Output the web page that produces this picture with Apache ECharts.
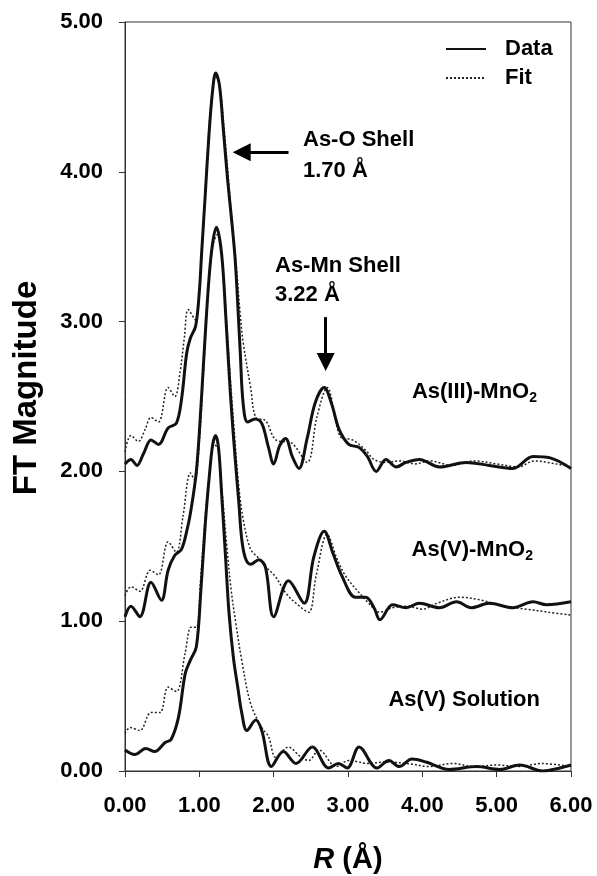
<!DOCTYPE html>
<html>
<head>
<meta charset="utf-8">
<script src="https://cdn.jsdelivr.net/npm/echarts@6/dist/echarts.min.js"></script>
<style>
  html, body { margin: 0; padding: 0; background: #fff; }
  #chart { width: 597px; height: 876px; }
</style>
</head>
<body>
<div id="chart"></div>
<script>
// R (Å), FT magnitude pairs
var asIIIData = [[0,2.05],[0.08,2.08],[0.16,2.04],[0.25,2.12],[0.35,2.21],[0.45,2.18],[0.58,2.29],[0.69,2.32],[0.76,2.48],[0.83,2.79],[0.88,2.89],[0.95,2.97],[1.0,3.2],[1.03,3.45],[1.08,3.85],[1.13,4.25],[1.18,4.55],[1.22,4.66],[1.27,4.58],[1.32,4.3],[1.38,3.95],[1.44,3.65],[1.48,3.43],[1.51,3.18],[1.55,2.8],[1.59,2.45],[1.65,2.33],[1.75,2.35],[1.84,2.32],[1.93,2.16],[2.0,2.05],[2.08,2.17],[2.16,2.22],[2.25,2.1],[2.34,2.02],[2.45,2.22],[2.56,2.46],[2.68,2.56],[2.78,2.45],[2.88,2.28],[3.01,2.18],[3.15,2.16],[3.26,2.1],[3.38,2.0],[3.51,2.08],[3.65,2.03],[3.78,2.06],[3.96,2.08],[4.23,2.03],[4.59,2.06],[4.9,2.04],[5.22,2.02],[5.49,2.1],[5.72,2.09],[6.0,2.02]];
var asIIIFit = [[0,2.13],[0.08,2.24],[0.18,2.2],[0.27,2.28],[0.35,2.36],[0.45,2.33],[0.58,2.56],[0.67,2.5],[0.74,2.66],[0.8,2.9],[0.85,3.08],[0.95,3.01],[1.0,3.2],[1.05,3.6],[1.1,4.05],[1.16,4.48],[1.22,4.64],[1.28,4.55],[1.34,4.25],[1.4,3.9],[1.46,3.55],[1.5,3.35],[1.55,3.05],[1.59,2.86],[1.69,2.56],[1.76,2.36],[1.89,2.34],[2.03,2.21],[2.24,2.19],[2.45,2.06],[2.58,2.36],[2.72,2.56],[2.9,2.23],[3.06,2.21],[3.24,2.14],[3.35,2.08],[3.51,2.06],[3.7,2.07],[3.9,2.05],[4.1,2.07],[4.4,2.04],[4.7,2.07],[5.0,2.05],[5.3,2.03],[5.5,2.07],[5.8,2.05],[6.0,2.03]];

var asVMnData = [[0,1.03],[0.08,1.1],[0.2,1.03],[0.35,1.26],[0.49,1.14],[0.58,1.34],[0.67,1.44],[0.76,1.48],[0.83,1.6],[0.88,1.72],[0.96,2.0],[1.03,2.5],[1.09,3.0],[1.16,3.45],[1.23,3.63],[1.3,3.45],[1.36,3.0],[1.42,2.5],[1.48,2.1],[1.53,1.8],[1.57,1.55],[1.62,1.42],[1.69,1.38],[1.8,1.41],[1.89,1.36],[2.0,1.03],[2.2,1.27],[2.41,1.12],[2.54,1.43],[2.68,1.6],[2.8,1.45],[2.92,1.3],[3.1,1.16],[3.24,1.16],[3.35,1.09],[3.43,1.01],[3.6,1.11],[3.78,1.09],[3.96,1.12],[4.23,1.09],[4.46,1.13],[4.66,1.09],[4.9,1.12],[5.22,1.09],[5.49,1.13],[5.67,1.11],[6.0,1.13]];
var asVMnFit = [[0,1.17],[0.08,1.23],[0.2,1.2],[0.34,1.34],[0.45,1.31],[0.58,1.53],[0.69,1.46],[0.78,1.7],[0.88,1.99],[0.94,1.94],[1.0,2.2],[1.06,2.7],[1.12,3.2],[1.18,3.5],[1.24,3.58],[1.3,3.45],[1.36,3.05],[1.42,2.6],[1.48,2.2],[1.53,1.9],[1.59,1.68],[1.69,1.48],[1.8,1.42],[1.9,1.36],[2.02,1.3],[2.16,1.19],[2.3,1.12],[2.47,1.06],[2.57,1.3],[2.72,1.58],[2.85,1.42],[2.97,1.3],[3.15,1.19],[3.28,1.12],[3.42,1.06],[3.6,1.09],[3.8,1.1],[4.0,1.08],[4.2,1.12],[4.5,1.16],[4.8,1.14],[5.1,1.1],[5.4,1.08],[5.7,1.06],[6.0,1.04]];

var solData = [[0,0.14],[0.13,0.11],[0.28,0.15],[0.4,0.13],[0.54,0.19],[0.62,0.21],[0.72,0.36],[0.81,0.65],[0.88,0.74],[0.96,0.83],[1.02,1.2],[1.08,1.65],[1.14,2.0],[1.18,2.18],[1.22,2.24],[1.26,2.15],[1.3,1.85],[1.35,1.45],[1.4,1.05],[1.46,0.75],[1.52,0.55],[1.57,0.39],[1.64,0.27],[1.76,0.34],[1.84,0.27],[1.97,0.03],[2.13,0.13],[2.3,0.05],[2.52,0.16],[2.74,0.02],[2.87,0.05],[2.99,0.02],[3.15,0.16],[3.39,0.02],[3.55,0.07],[3.69,0.03],[3.86,0.08],[4.05,0.06],[4.36,0.01],[4.73,0.03],[5.04,0.01],[5.31,0.04],[5.62,0.0],[5.85,0.02],[6.0,0.04]];
var solFit = [[0,0.25],[0.07,0.29],[0.2,0.27],[0.35,0.39],[0.47,0.39],[0.58,0.56],[0.69,0.53],[0.81,0.79],[0.89,0.96],[0.96,0.96],[1.02,1.3],[1.08,1.7],[1.14,2.0],[1.2,2.18],[1.25,2.15],[1.3,1.9],[1.37,1.5],[1.43,1.2],[1.49,0.99],[1.57,0.74],[1.69,0.45],[1.84,0.29],[1.93,0.23],[2.03,0.09],[2.2,0.16],[2.35,0.1],[2.47,0.07],[2.61,0.14],[2.84,0.03],[3.01,0.07],[3.28,0.05],[3.5,0.06],[3.8,0.05],[4.1,0.03],[4.4,0.05],[4.7,0.03],[5.0,0.04],[5.3,0.03],[5.6,0.05],[6.0,0.03]];

var xTicks = [0, 1, 2, 3, 4, 5, 6];
var yTicks = [0, 1, 2, 3, 4, 5];

var FONT = '"Liberation Sans", Arial, sans-serif';

function dataLine(d) {
    return {
        name: 'Data', type: 'line', data: d, symbol: 'none', smooth: 0.35,
        lineStyle: { color: '#111', width: 3 }, itemStyle: { color: '#111' }, z: 3
    };
}
function fitLine(d) {
    return {
        name: 'Fit', type: 'line', data: d, symbol: 'none', smooth: 0.35,
        lineStyle: { color: '#222', width: 1.5, type: [2, 2] }, itemStyle: { color: '#222' }, z: 2
    };
}
function label(x, y, txt, align) {
    return {
        type: 'text', x: x, y: y, silent: true,
        style: {
            text: txt, fill: '#000', align: align || 'left', verticalAlign: 'middle',
            fontFamily: FONT, fontWeight: 'bold', fontSize: 22,
            rich: { sub: { fontFamily: FONT, fontWeight: 'bold', fontSize: 14, padding: [12, 0, 0, 0] } }
        }
    };
}

var series = [
    dataLine(asIIIData), fitLine(asIIIFit),
    dataLine(asVMnData), fitLine(asVMnFit),
    dataLine(solData), fitLine(solFit)
];
// annotation arrows, in data coordinates
series[0].markLine = {
    silent: true,
    symbol: ['none', 'triangle'],
    symbolSize: [18, 18],
    label: { show: false },
    lineStyle: { color: '#000', width: 3, type: 'solid' },
    data: [
        [{ coord: [2.2, 4.13] }, { coord: [1.57, 4.13] }],
        [{ coord: [2.7, 3.03] }, { coord: [2.7, 2.73] }]
    ]
};

var chart = echarts.init(document.getElementById('chart'));
chart.setOption({
    animation: false,
    backgroundColor: '#fff',
    grid: { left: 125, right: 26, top: 22, bottom: 105, show: true, borderColor: '#333', borderWidth: 1 },
    legend: {
        data: ['Data', 'Fit'],
        orient: 'vertical',
        left: 440, top: 33,
        itemWidth: 40, itemHeight: 20, itemGap: 7,
        itemStyle: { opacity: 0 },
        textStyle: { fontFamily: FONT, fontWeight: 'bold', fontSize: 22, color: '#000', padding: [0, 0, 0, 14] }
    },
    xAxis: {
        type: 'value', min: xTicks[0], max: xTicks[xTicks.length - 1], interval: 1,
        axisLine: { onZero: false, lineStyle: { color: '#333', width: 1 } },
        axisTick: { show: true, inside: false, length: 6, lineStyle: { color: '#333' } },
        splitLine: { show: false },
        axisLabel: { margin: 24, color: '#000', fontFamily: FONT, fontWeight: 'bold', fontSize: 22,
            formatter: function (v) { return v.toFixed(2); } }
    },
    yAxis: {
        type: 'value', min: yTicks[0], max: yTicks[yTicks.length - 1], interval: 1,
        axisLine: { show: true, lineStyle: { color: '#333', width: 1 } },
        axisTick: { show: true, inside: false, length: 6, lineStyle: { color: '#333' } },
        splitLine: { show: false },
        axisLabel: { margin: 22, color: '#000', fontFamily: FONT, fontWeight: 'bold', fontSize: 22,
            formatter: function (v) { return v.toFixed(2); } }
    },
    series: series,
    graphic: [
        label(303, 140, 'As-O Shell'),
        label(303, 171, '1.70 Å'),
        label(275, 266, 'As-Mn Shell'),
        label(275, 295, '3.22 Å'),
        label(537, 392, 'As(III)-MnO{sub|2}', 'right'),
        label(533, 550, 'As(V)-MnO{sub|2}', 'right'),
        label(540, 700, 'As(V) Solution', 'right'),
        {
            type: 'text', x: 27, y: 388, rotation: Math.PI / 2, silent: true,
            style: { text: 'FT Magnitude', fill: '#000', align: 'center', verticalAlign: 'middle',
                fontFamily: FONT, fontWeight: 'bold', fontSize: 33 }
        },
        {
            type: 'text', x: 348, y: 860, silent: true,
            style: { text: '{it|R} (Å)', fill: '#000', align: 'center', verticalAlign: 'middle',
                fontFamily: FONT, fontWeight: 'bold', fontSize: 29,
                rich: { it: { fontFamily: FONT, fontWeight: 'bold', fontStyle: 'italic', fontSize: 29 } } }
        }
    ]
});
</script>
</body>
</html>
